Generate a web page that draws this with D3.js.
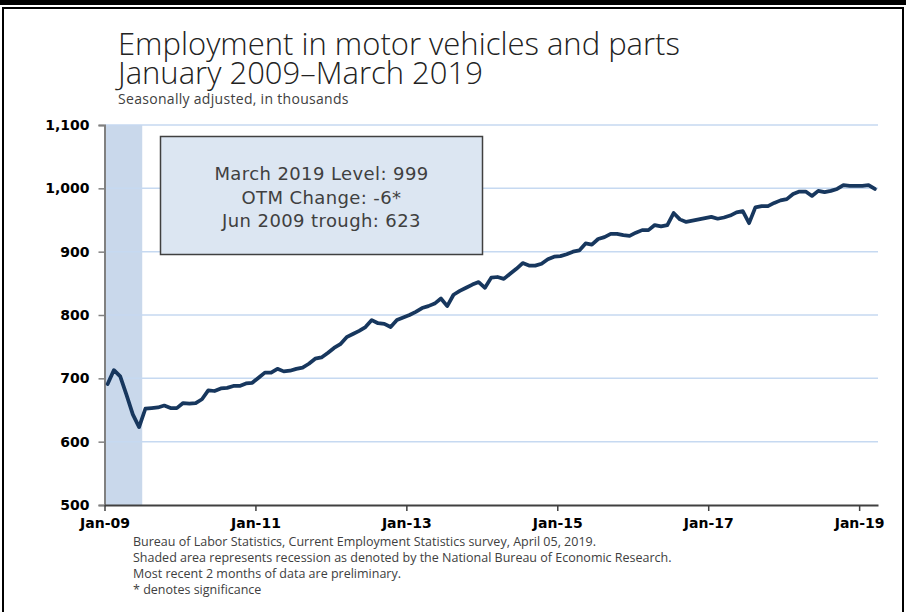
<!DOCTYPE html>
<html>
<head>
    <title>Employment in motor vehicles and parts</title>
    <script src="https://cdnjs.cloudflare.com/ajax/libs/d3/7.8.5/d3.min.js"></script>
    <style>
        body {
            margin: 0;
            background: white;
        }
        .title {
            font-family: "Open Sans", sans-serif;
            font-weight: 300;
            fill: #222;
        }
        .note {
            font-family: "Open Sans", sans-serif;
            fill: #404040;
        }
        .axis text {
            font-family: Verdana, "DejaVu Sans", sans-serif;
            font-weight: bold;
            font-size: 14px;
            fill: #000;
        }
        .box-text {
            font-family: Verdana, "DejaVu Sans", sans-serif;
            font-size: 18px;
            letter-spacing: 0.4px;
            fill: #404040;
        }
    </style>
</head>
<body>
    <div id="chart"></div>

    <script>
        // Data: monthly employment, Jan 2009 - Mar 2019 (thousands, SA)
        const startMonth = "2009-01";
        const values = [
            691, 713, 703, 674, 643, 623, 652, 653, 654, 657, 653, 653,   // 2009
            661, 660, 661, 667, 681, 680, 684, 685, 688, 688, 692, 693,   // 2010
            701, 709, 709, 715, 711, 712, 715, 717, 723, 731, 733, 740,   // 2011
            748, 754, 765, 770, 775, 781, 792, 787, 786, 781, 792, 796,   // 2012
            800, 805, 811, 814, 818, 826, 814, 832, 838, 843, 848, 852,   // 2013
            843, 859, 860, 857, 865, 873, 882, 878, 878, 881, 888, 892,   // 2014
            893, 896, 900, 902, 913, 911, 920, 923, 928, 928, 926, 925,   // 2015
            930, 934, 934, 942, 940, 942, 961, 951, 947, 949, 951, 953,   // 2016
            955, 952, 954, 957, 962, 964, 945, 970, 972, 972, 977, 981,   // 2017
            983, 991, 995, 995, 988, 996, 994, 996, 999, 1005, 1004, 1004, // 2018
            1004, 1005, 999                                                // 2019
        ];
        const tickLabels = ["Jan-09", "Jan-11", "Jan-13", "Jan-15", "Jan-17", "Jan-19"];
        const yTicks = [500, 600, 700, 800, 900, 1000, 1100];
        const recessionMonths = 6;   // Jan-Jun 2009 shaded

        const titleLines = ["Employment in motor vehicles and parts", "January 2009\u2013March 2019"];
        const subtitle = "Seasonally adjusted, in thousands";
        const boxLines = ["March 2019 Level: 999", "OTM Change: -6*", "Jun 2009 trough: 623"];
        const notes = [
            "Bureau of Labor Statistics, Current Employment Statistics survey, April 05, 2019.",
            "Shaded area represents recession as denoted by the National Bureau of Economic Research.",
            "Most recent 2 months of data are preliminary.",
            "* denotes significance"
        ];

        // Layout
        const width = 906;
        const height = 612;
        const plot = { left: 104.5, right: 878, top: 125, bottom: 505 };

        const svg = d3.select("#chart")
            .append("svg")
            .attr("width", width)
            .attr("height", height);

        // Frame
        svg.append("rect")
            .attr("x", 0).attr("y", 0)
            .attr("width", width).attr("height", 5)
            .attr("fill", "#000");
        svg.append("rect")
            .attr("x", 3).attr("y", 8)
            .attr("width", width - 6).attr("height", height)
            .attr("fill", "none")
            .attr("stroke", "#000")
            .attr("stroke-width", 2);

        // Scales
        const x = d3.scaleLinear()
            .domain([0, values.length])
            .range([plot.left, plot.right]);

        const y = d3.scaleLinear()
            .domain([500, 1100])
            .range([plot.bottom, plot.top]);

        // Recession shading
        svg.append("rect")
            .attr("x", x(0))
            .attr("y", y(1100))
            .attr("width", x(recessionMonths) - x(0))
            .attr("height", y(500) - y(1100))
            .attr("fill", "#c9d8eb");

        // Gridlines
        svg.append("g")
            .selectAll("line")
            .data(yTicks.filter(d => d > 500))
            .enter()
            .append("line")
            .attr("x1", x(0))
            .attr("x2", plot.right)
            .attr("y1", d => y(d))
            .attr("y2", d => y(d))
            .attr("stroke", "#c6d9f1")
            .attr("stroke-width", 1.5);

        // Y axis
        const yAxis = svg.append("g")
            .attr("class", "axis")
            .attr("transform", `translate(${plot.left},0)`)
            .call(d3.axisLeft(y)
                .tickValues(yTicks)
                .tickFormat(d3.format(","))
                .tickSize(6)
                .tickPadding(9));
        yAxis.select(".domain").attr("stroke", "#808080").attr("stroke-width", 2);
        yAxis.selectAll(".tick line").attr("stroke", "#808080").attr("stroke-width", 1.5);

        // X axis: ticks at category boundaries every 24 months
        const xAxis = svg.append("g")
            .attr("class", "axis")
            .attr("transform", `translate(0,${plot.bottom})`)
            .call(d3.axisBottom(x)
                .tickValues(tickLabels.map((d, i) => i * 24))
                .tickFormat((d, i) => tickLabels[i])
                .tickSizeInner(6)
                .tickSizeOuter(0)
                .tickPadding(7));
        xAxis.select(".domain").attr("stroke", "#404040").attr("stroke-width", 2);
        xAxis.selectAll(".tick line").attr("stroke", "#404040").attr("stroke-width", 1.5);

        // Line
        const line = d3.line()
            .x((d, i) => x(i + 0.5))
            .y(d => y(d));

        svg.append("path")
            .datum(values)
            .attr("d", line)
            .attr("fill", "none")
            .attr("stroke", "#17375e")
            .attr("stroke-width", 3.75)
            .attr("stroke-linejoin", "round")
            .attr("stroke-linecap", "round");

        // Annotation box
        svg.append("rect")
            .attr("x", 160.5).attr("y", 136.5)
            .attr("width", 322).attr("height", 118)
            .attr("fill", "#dce6f2")
            .attr("stroke", "#404040")
            .attr("stroke-width", 1.5);

        svg.append("g")
            .selectAll("text")
            .data(boxLines)
            .enter()
            .append("text")
            .attr("class", "box-text")
            .attr("x", 321.5)
            .attr("y", (d, i) => 180 + i * 23.5)
            .attr("text-anchor", "middle")
            .text(d => d);

        // Titles
        svg.selectAll(".title")
            .data(titleLines)
            .enter()
            .append("text")
            .attr("class", "title")
            .attr("x", 118)
            .attr("y", (d, i) => 55 + i * 29)
            .attr("font-size", 31)
            .text(d => d);

        svg.append("text")
            .attr("class", "note")
            .attr("x", 118)
            .attr("y", 104)
            .attr("font-size", 14)
            .attr("letter-spacing", 0.3)
            .text(subtitle);

        // Footnotes
        svg.append("g")
            .selectAll("text")
            .data(notes)
            .enter()
            .append("text")
            .attr("class", "note")
            .attr("x", 133)
            .attr("y", (d, i) => 546 + i * 16)
            .attr("font-size", 12.5)
            .text(d => d);
    </script>
</body>
</html>
